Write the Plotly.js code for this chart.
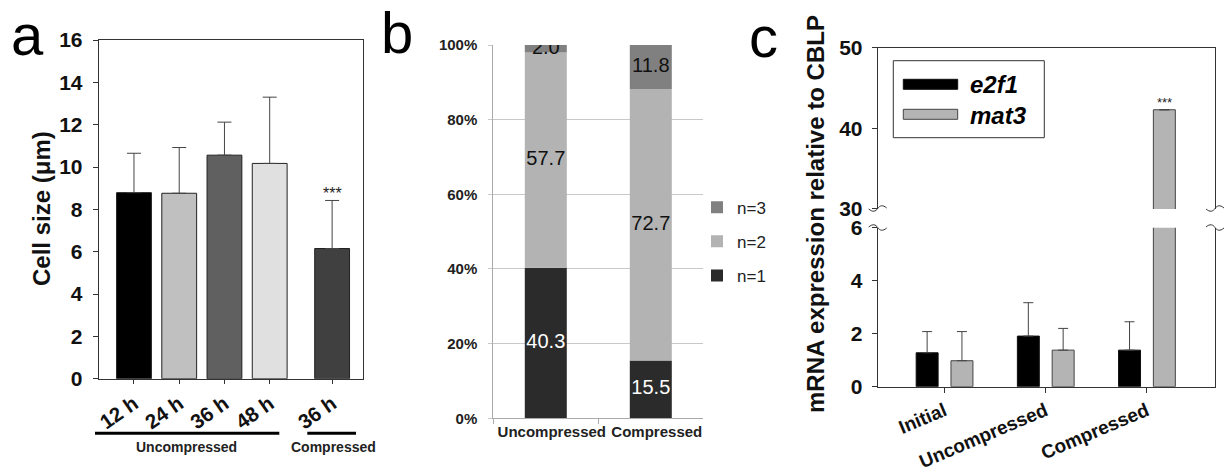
<!DOCTYPE html>
<html>
<head>
<meta charset="utf-8">
<script src="https://cdn.plot.ly/plotly-3.0.1.min.js"></script>
<style>html,body{margin:0;padding:0;background:#fff;}#chart{width:1225px;height:472px;}</style>
</head>
<body>
<div id="chart"></div>
<script>
// ---------- Panel a data ----------
const catA = ['12 h', '24 h', '36 h', '48 h', '36 h'];
const sizeA = [8.79, 8.76, 10.56, 10.17, 6.15];
const errA = [1.86, 2.16, 1.56, 3.13, 2.27];
const groupLabelsA = ['Uncompressed', 'Compressed'];
const sigA = '***';

// ---------- Panel b data ----------
const catB = ['Uncompressed', 'Compressed'];
const n1 = [40.3, 15.5];
const n2 = [57.7, 72.7];
const n3 = [2.0, 11.8];
const seriesB = ['n=1', 'n=2', 'n=3'];

// ---------- Panel c data ----------
const catC = ['Initial', 'Uncompressed', 'Compressed'];
const e2f1 = [1.28, 1.91, 1.38];
const e2f1Err = [0.80, 1.26, 1.07];
const mat3 = [0.98, 1.38, 42.3];
const mat3Err = [1.10, 0.82, 0];
const seriesC = ['e2f1', 'mat3'];
const sigC = '***';

// ---------- layout helpers (pixel -> paper) ----------
const W = 1225, H = 472;
const px = p => p / W;
const py = p => 1 - p / H;
const FONT = 'Arial, "Liberation Sans", Helvetica, sans-serif';

// x positions for panel a (gap before compressed group)
const posA = [0, 1, 2, 3, 4.38];

const zeros = a => a.map(() => 0);
const fmt1 = v => v.toFixed(1);

const traces = [];

// Panel a bars
traces.push({
  type: 'bar', x: posA, y: sizeA, xaxis: 'x', yaxis: 'y', width: 0.77,
  marker: { color: ['#000000', '#c0c0c0', '#606060', '#e0e0e0', '#404040'], line: { color: '#222', width: 1 } },
  error_y: { type: 'data', symmetric: false, array: errA, arrayminus: zeros(errA), color: '#444', thickness: 1, width: 7 },
  showlegend: false, hoverinfo: 'skip'
});

// Panel b stacked bars (base from cumulative data)
const base2 = n1.slice();
const base3 = n1.map((v, i) => v + n2[i]);
traces.push({ type: 'bar', name: seriesB[0], x: catB, y: n1, xaxis: 'x2', yaxis: 'y2', width: 0.4,
  marker: { color: '#2b2b2b', line: { width: 0 } }, legendgroup: 'g1', legendrank: 3, hoverinfo: 'skip' });
traces.push({ type: 'bar', name: seriesB[1], x: catB, y: n2, base: base2, xaxis: 'x2', yaxis: 'y2', width: 0.4,
  marker: { color: '#b3b3b3', line: { width: 0 } }, legendgroup: 'g2', legendrank: 2, hoverinfo: 'skip' });
traces.push({ type: 'bar', name: seriesB[2], x: catB, y: n3, base: base3, xaxis: 'x2', yaxis: 'y2', width: 0.4,
  marker: { color: '#808080', line: { width: 0 } }, legendgroup: 'g3', legendrank: 1, hoverinfo: 'skip' });

// Panel b segment labels
traces.push({ type: 'scatter', mode: 'text', x: catB, y: n1.map(v => v / 2), text: n1.map(fmt1),
  textfont: { family: FONT, size: 20, color: '#ffffff' }, xaxis: 'x2', yaxis: 'y2', showlegend: false, hoverinfo: 'skip' });
traces.push({ type: 'scatter', mode: 'text', x: catB, y: n2.map((v, i) => base2[i] + v / 2), text: n2.map(fmt1),
  textfont: { family: FONT, size: 20, color: '#111' }, xaxis: 'x2', yaxis: 'y2', showlegend: false, hoverinfo: 'skip' });
traces.push({ type: 'scatter', mode: 'text', x: catB, y: n3.map((v, i) => base3[i] + v / 2), text: n3.map(fmt1),
  textfont: { family: FONT, size: 20, color: '#111' }, xaxis: 'x2', yaxis: 'y2', showlegend: false, hoverinfo: 'skip' });

// Panel c bars (lower and upper segments of broken axis)
const cE = { color: '#000000', line: { color: '#111', width: 1 } };
const cM = { color: '#b4b4b4', line: { color: '#444', width: 1 } };
[['x3', 'y3'], ['x4', 'y4']].forEach(([xa, ya]) => {
  traces.push({ type: 'bar', name: seriesC[0], x: catC, y: e2f1, xaxis: xa, yaxis: ya, width: 0.217, offset: -0.278,
    marker: cE, error_y: { type: 'data', symmetric: false, array: e2f1Err, arrayminus: zeros(e2f1Err), color: '#444', thickness: 1, width: 5 },
    showlegend: false, hoverinfo: 'skip', cliponaxis: true });
  traces.push({ type: 'bar', name: seriesC[1], x: catC, y: mat3, xaxis: xa, yaxis: ya, width: 0.217, offset: 0.066,
    marker: cM, error_y: { type: 'data', symmetric: false, array: mat3Err, arrayminus: zeros(mat3Err), color: '#444', thickness: 1, width: 5 },
    showlegend: false, hoverinfo: 'skip', cliponaxis: true });
});

// ---------- shapes ----------
const shapes = [];
// group bars under panel a
shapes.push({ type: 'line', xref: 'paper', yref: 'paper', x0: px(95), x1: px(279.3), y0: py(433.3), y1: py(433.3), line: { color: '#000', width: 3 } });
shapes.push({ type: 'line', xref: 'paper', yref: 'paper', x0: px(307.3), x1: px(356), y0: py(433.3), y1: py(433.3), line: { color: '#000', width: 3 } });

// axis-break tildes on panel c
function tilde(xp, yp, flip) {
  const s = flip ? -1 : 1;
  const pts = [[xp - 9, yp + 0.5 * s], [xp - 5, yp + 4 * s], [xp - 2, yp + 3 * s], [xp, yp], [xp + 2, yp - 3 * s], [xp + 5, yp - 4 * s], [xp + 9, yp - 0.5 * s]];
  const P = pts.map(p => [px(p[0]).toFixed(5), py(p[1]).toFixed(5)]);
  return { type: 'path', xref: 'paper', yref: 'paper',
    path: `M${P[0][0]},${P[0][1]} C${P[1][0]},${P[1][1]} ${P[2][0]},${P[2][1]} ${P[3][0]},${P[3][1]} C${P[4][0]},${P[4][1]} ${P[5][0]},${P[5][1]} ${P[6][0]},${P[6][1]}`,
    line: { color: '#333', width: 1 } };
}
[877.7, 1215].forEach(xp => {
  shapes.push(tilde(xp, 208.5, false));
  shapes.push(tilde(xp, 227.5, true));
});

// panel c legend box and swatches
shapes.push({ type: 'rect', xref: 'paper', yref: 'paper', x0: px(893.3), x1: px(1044.3), y0: py(60.7), y1: py(137.7), line: { color: '#333', width: 1 }, fillcolor: 'rgba(0,0,0,0)' });
shapes.push({ type: 'rect', xref: 'paper', yref: 'paper', x0: px(903.3), x1: px(957.7), y0: py(79.3), y1: py(89.3), line: cE.line, fillcolor: cE.color });
shapes.push({ type: 'rect', xref: 'paper', yref: 'paper', x0: px(903.3), x1: px(957.7), y0: py(109.3), y1: py(119.3), line: cM.line, fillcolor: cM.color });

// ---------- annotations ----------
const annotations = [];
const ann = (o) => annotations.push(Object.assign({ showarrow: false, xref: 'paper', yref: 'paper' }, o));
// panel letters
ann({ text: 'a', x: px(27.5), y: py(34), xanchor: 'center', yanchor: 'middle', font: { family: FONT, size: 58, color: '#000' } });
ann({ text: 'b', x: px(397), y: py(32), xanchor: 'center', yanchor: 'middle', font: { family: FONT, size: 58, color: '#000' } });
ann({ text: 'c', x: px(763), y: py(36), xanchor: 'center', yanchor: 'middle', font: { family: FONT, size: 58, color: '#000' } });
// axis titles
ann({ text: 'Cell size (μm)', x: px(41), y: py(209), textangle: -90, xanchor: 'center', yanchor: 'middle', font: { family: FONT, size: 24, color: '#111', weight: 'bold' } });
ann({ text: 'mRNA expression relative to CBLP', x: px(815), y: py(214), textangle: -90, xanchor: 'center', yanchor: 'middle', font: { family: FONT, size: 24, color: '#111', weight: 'bold' } });
// group labels panel a
ann({ text: groupLabelsA[0], x: px(186), y: py(447.3), xanchor: 'center', yanchor: 'middle', font: { family: FONT, size: 14, color: '#222', weight: 'bold' } });
ann({ text: groupLabelsA[1], x: px(333), y: py(447.3), xanchor: 'center', yanchor: 'middle', font: { family: FONT, size: 14, color: '#222', weight: 'bold' } });
// significance stars
annotations.push({ showarrow: false, xref: 'x', yref: 'y', x: posA[4], y: sizeA[4] + errA[4], yanchor: 'bottom', yshift: -4, text: sigA, font: { family: FONT, size: 16, color: '#222' } });
annotations.push({ showarrow: false, xref: 'x4', yref: 'y4', x: 2 + 0.066 + 0.217 / 2, y: mat3[2], yanchor: 'bottom', yshift: -2, text: sigC, font: { family: FONT, size: 13, color: '#222' } });
// panel c legend text
ann({ text: '<i>' + seriesC[0] + '</i>', x: px(968), y: py(85), xanchor: 'left', yanchor: 'middle', font: { family: FONT, size: 24, color: '#000', weight: 'bold' } });
ann({ text: '<i>' + seriesC[1] + '</i>', x: px(968), y: py(115), xanchor: 'left', yanchor: 'middle', font: { family: FONT, size: 24, color: '#000', weight: 'bold' } });

const tickFontA = { family: FONT, size: 21, color: '#111', weight: 'bold' };
const tickFontC = { family: FONT, size: 21, color: '#111', weight: 'bold' };

const layout = {
  width: W, height: H,
  margin: { l: 0, r: 0, t: 0, b: 0 },
  paper_bgcolor: '#fff', plot_bgcolor: 'rgba(0,0,0,0)',
  barmode: 'overlay',
  font: { family: FONT },
  showlegend: true,
  legend: {
    x: px(697), y: py(241.7), xanchor: 'left', yanchor: 'middle',
    traceorder: 'grouped', tracegroupgap: 9, itemwidth: 30,
    font: { family: FONT, size: 17, color: '#222' }, bgcolor: 'rgba(0,0,0,0)', borderwidth: 0
  },
  // panel a
  xaxis: {
    domain: [px(98.7), px(362.7)], anchor: 'y', range: [-0.78, 5.056],
    tickvals: posA, ticktext: catA, tickangle: -35, tickfont: { family: FONT, size: 20.5, color: '#111', weight: 'bold' },
    ticks: 'outside', ticklen: 4, tickcolor: '#333', showline: true, linecolor: '#333', linewidth: 1, mirror: true,
    showgrid: false, zeroline: false, fixedrange: true
  },
  yaxis: {
    domain: [py(378.7), py(40)], anchor: 'x', range: [0, 16], dtick: 2, tick0: 0,
    tickfont: tickFontA, ticks: 'outside', ticklen: 5, tickcolor: '#333', ticklabelstandoff: 6,
    showline: true, linecolor: '#333', linewidth: 1, mirror: true, showgrid: false, zeroline: false, fixedrange: true
  },
  // panel b
  xaxis2: {
    domain: [px(493.3), px(703.3)], anchor: 'y2', type: 'category', range: [-0.5, 1.5], tickangle: 0,
    tickfont: { family: FONT, size: 15, color: '#222', weight: 'bold' }, ticklabelshift: 6,
    ticks: 'outside', tickson: 'boundaries', ticklen: 5, tickcolor: '#aaa',
    showline: true, linecolor: '#aaa', linewidth: 1, showgrid: false, zeroline: false, fixedrange: true
  },
  yaxis2: {
    domain: [py(418.3), py(45)], anchor: 'x2', range: [0, 100], dtick: 20, ticksuffix: '%',
    tickfont: { family: FONT, size: 15, color: '#222', weight: 'bold' }, ticklabelstandoff: 8,
    ticks: 'outside', ticklen: 4, tickcolor: '#c8c8c8',
    showline: true, linecolor: '#aaa', linewidth: 1, showgrid: true, gridcolor: '#c8c8c8', gridwidth: 1, zeroline: false, fixedrange: true
  },
  // panel c lower
  xaxis3: {
    domain: [px(877.7), px(1215)], anchor: 'y3', type: 'category', range: [-0.658, 2.675],
    tickfont: { family: FONT, size: 19, color: '#111', weight: 'bold' }, tickangle: -23,
    ticks: 'outside', ticklen: 5, tickcolor: '#333',
    showline: true, linecolor: '#333', linewidth: 1, showgrid: false, zeroline: false, fixedrange: true
  },
  yaxis3: {
    domain: [py(386.7), py(227.7)], anchor: 'x3', range: [0, 6], tickvals: [0, 2, 4, 6],
    tickfont: tickFontC, ticks: 'outside', ticklen: 5, tickcolor: '#333', ticklabelstandoff: 5,
    showline: true, linecolor: '#333', linewidth: 1, mirror: true, showgrid: false, zeroline: false, fixedrange: true
  },
  // panel c upper
  xaxis4: {
    domain: [px(877.7), px(1215)], anchor: 'y4', type: 'category', range: [-0.658, 2.675], side: 'top',
    showticklabels: false, ticks: '', showline: true, linecolor: '#333', linewidth: 1, showgrid: false, zeroline: false, fixedrange: true
  },
  yaxis4: {
    domain: [py(208.9), py(47.7)], anchor: 'x4', range: [30, 50], tickvals: [30, 40, 50],
    tickfont: tickFontC, ticks: 'outside', ticklen: 5, tickcolor: '#333', ticklabelstandoff: 5,
    showline: true, linecolor: '#333', linewidth: 1, mirror: true, showgrid: false, zeroline: false, fixedrange: true
  },
  shapes: shapes,
  annotations: annotations
};

// only panel b bars appear in the legend
traces.forEach((t) => { if (!(t.xaxis === 'x2' && t.type === 'bar')) t.showlegend = false; });

Plotly.newPlot('chart', traces, layout, { staticPlot: true, displayModeBar: false });
</script>
</body>
</html>
